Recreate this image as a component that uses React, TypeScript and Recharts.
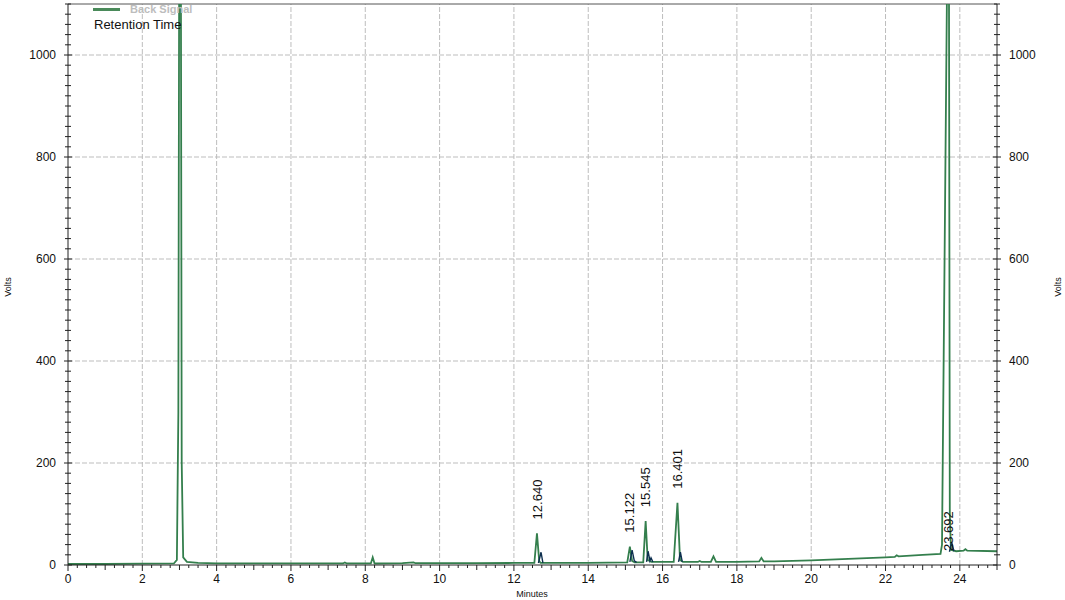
import React from "react";
import {
  ComposedChart,
  Line,
  Scatter,
  XAxis,
  YAxis,
  ReferenceLine,
} from "recharts";

// main detector trace (green)
const signalTime = [
  0, 1, 2, 2.85, 2.93, 2.97, 3.0, 3.03, 3.06, 3.1, 3.2, 3.5, 4, 5, 6, 7, 7.4,
  7.45, 7.5, 8.15, 8.2, 8.25, 9.0, 9.3, 9.35, 10, 11, 12, 12.55, 12.62, 12.68,
  12.72, 13, 14, 15.05, 15.12, 15.18, 15.25, 15.48, 15.545, 15.6, 15.7, 16.3,
  16.401, 16.47, 16.55, 16.95, 17.0, 17.05, 17.3, 17.37, 17.44, 18, 18.6, 18.66,
  18.72, 19, 20, 21, 22, 22.25, 22.3, 22.35, 23, 23.48, 23.52, 23.7, 23.73,
  23.76, 23.9, 24.1, 24.15, 24.2, 25,
];
const signalVolts = [
  2, 2, 2.5, 3, 10, 300, 1500, 1500, 200, 15, 6, 4, 3, 3, 3, 3, 3, 5, 3, 3, 15,
  3, 3.5, 5, 3.5, 3.5, 3.5, 4, 4, 62, 8, 4, 4, 4, 5, 36, 8, 5, 5, 86, 10, 6, 6,
  122, 10, 6, 6, 8, 6, 6, 17, 6, 6, 7, 14, 7, 7, 9, 12, 15, 16, 19, 17, 20, 22,
  40, 1500, 100, 30, 27, 28, 31, 28, 27,
];

// secondary trace (dark), only around the peaks
const darkTime = [
  12.66, 12.73, 12.78, null, 15.12, 15.18, 15.24, 15.3, null, 15.57, 15.61,
  15.66, 15.69, 15.74, null, 16.43, 16.48, 16.53, null, 23.72, 23.78, 23.84,
];
const darkVolts = [
  4, 25, 4, null, 6, 29, 8, 5, null, 6, 27, 8, 14, 6, null, 6, 25, 6, null, 26,
  45, 27,
];

const peakTimes = [12.64, 15.122, 15.545, 16.401, 23.692];
const peakApex = [62, 36, 86, 122, 0];
const peakNames = ["12.640", "15.122", "15.545", "16.401", "23.692"];

const xMajor = [0, 2, 4, 6, 8, 10, 12, 14, 16, 18, 20, 22, 24];
const yMajor = [0, 200, 400, 600, 800, 1000];
const xGrid = [2, 4, 6, 8, 10, 12, 14, 16, 18, 20, 22, 24];
const yGrid = [200, 400, 600, 800, 1000];
const xMinor = Array.from({ length: 101 }, (_, i) => i * 0.25);
const yMinor = Array.from({ length: 56 }, (_, i) => i * 20);

const signalData = signalTime.map((t, i) => ({ t, v: signalVolts[i] }));
const darkData = darkTime.map((t, i) =>
  t === null ? { t: null, v: null } : { t, v: darkVolts[i] }
);
const peakData = peakTimes.map((t, i) => ({
  t,
  v: peakApex[i],
  name: peakNames[i],
}));

const GREEN = "#347f4d";
const DARK = "#0d2f4f";
const FONT = "'Liberation Sans', Arial, sans-serif";

const XTick = (props: any) => {
  const { x, y, payload } = props;
  const v = payload.value;
  const major = xMajor.includes(v);
  const mid = !major && Number.isInteger(v);
  const len = major ? 6 : mid ? 5 : 3;
  return (
    <g>
      <line x1={x} x2={x} y1={y} y2={y + len} stroke="#222" />
      {major && (
        <text x={x} y={y + 18} textAnchor="middle" fontSize={12} fill="#111" fontFamily={FONT}>
          {v}
        </text>
      )}
    </g>
  );
};

const YTick = (props: any) => {
  const { x, y, payload, side } = props;
  const v = payload.value;
  const major = yMajor.includes(v);
  const len = major ? 4 : 3;
  const dir = side === "left" ? -1 : 1;
  return (
    <g>
      <line x1={x - len} x2={x + len} y1={y} y2={y} stroke="#222" />
      {major && (
        <text
          x={x + dir * 12}
          y={y}
          dy="0.35em"
          textAnchor={side === "left" ? "end" : "start"}
          fontSize={12}
          fill="#111"
          fontFamily={FONT}
        >
          {v}
        </text>
      )}
    </g>
  );
};

const PeakLabel = (props: any) => {
  const { cx, cy, payload } = props;
  const y0 = cy - 14;
  return (
    <text
      x={cx}
      y={y0}
      transform={`rotate(-90 ${cx} ${y0})`}
      dominantBaseline="central"
      textAnchor="start"
      fontSize={13}
      fill="#111"
      fontFamily={FONT}
    >
      {payload.name}
    </text>
  );
};

const App = () => {
  return (
    <div style={{ position: "fixed", left: 0, top: 0, width: 1065, height: 600, background: "#fff" }}>
      <ComposedChart
        width={1065}
        height={600}
        margin={{ top: 4, right: 28, bottom: 10, left: 28 }}
      >
        <XAxis
          dataKey="t"
          type="number"
          domain={[0, 25]}
          ticks={xMinor}
          interval={0}
          tickSize={0}
          tickMargin={0}
          tickLine={false}
          tick={<XTick />}
          height={25}
          axisLine={{ stroke: "#222" }}
          allowDataOverflow
        />
        <YAxis
          yAxisId="left"
          type="number"
          domain={[0, 1100]}
          ticks={yMinor}
          interval={0}
          tickSize={0}
          tickMargin={0}
          tickLine={false}
          tick={<YTick side="left" />}
          width={40}
          axisLine={{ stroke: "#222" }}
          allowDataOverflow
        />
        <YAxis
          yAxisId="right"
          orientation="right"
          type="number"
          domain={[0, 1100]}
          ticks={yMinor}
          interval={0}
          tickSize={0}
          tickMargin={0}
          tickLine={false}
          tick={<YTick side="right" />}
          width={40}
          axisLine={{ stroke: "#222" }}
          allowDataOverflow
        />
        {xGrid.map((g) => (
          <ReferenceLine key={"x" + g} x={g} yAxisId="left" stroke="#bdbdbd" strokeDasharray="5 2" />
        ))}
        {yGrid.map((g) => (
          <ReferenceLine key={"y" + g} y={g} yAxisId="left" stroke="#bdbdbd" strokeDasharray="5 2" />
        ))}
        <ReferenceLine y={1100} yAxisId="left" stroke="#555" />

        <Line
          yAxisId="left"
          data={signalData}
          dataKey="v"
          type="linear"
          stroke={GREEN}
          strokeWidth={1.8}
          dot={false}
          isAnimationActive={false}
        />
        <Line
          yAxisId="left"
          data={darkData}
          dataKey="v"
          type="linear"
          stroke={DARK}
          strokeWidth={1.4}
          dot={false}
          connectNulls={false}
          isAnimationActive={false}
        />
        <Scatter
          yAxisId="left"
          data={peakData}
          dataKey="v"
          shape={<PeakLabel />}
          isAnimationActive={false}
        />
      </ComposedChart>

      {/* legend and titles */}
      <div style={{ position: "absolute", left: 93, top: 8, width: 27, height: 3, background: "#4a8a5a" }} />
      <div
        style={{
          position: "absolute",
          left: 130,
          top: 3,
          fontFamily: FONT,
          fontSize: 11,
          fontWeight: "bold",
          color: "#bdbdbd",
          lineHeight: "12px",
        }}
      >
        Back Signal
      </div>
      <div
        style={{
          position: "absolute",
          left: 94,
          top: 17,
          fontFamily: FONT,
          fontSize: 13,
          color: "#111",
          lineHeight: "16px",
        }}
      >
        Retention Time
      </div>
      <div
        style={{
          position: "absolute",
          left: 8,
          top: 287,
          fontFamily: FONT,
          fontSize: 9,
          color: "#111",
          transform: "translate(-50%, -50%) rotate(-90deg)",
        }}
      >
        Volts
      </div>
      <div
        style={{
          position: "absolute",
          left: 1058,
          top: 287,
          fontFamily: FONT,
          fontSize: 9,
          color: "#111",
          transform: "translate(-50%, -50%) rotate(-90deg)",
        }}
      >
        Volts
      </div>
      <div
        style={{
          position: "absolute",
          left: 532,
          top: 594,
          fontFamily: FONT,
          fontSize: 9,
          color: "#111",
          transform: "translate(-50%, -50%)",
        }}
      >
        Minutes
      </div>
    </div>
  );
};

export default App;
